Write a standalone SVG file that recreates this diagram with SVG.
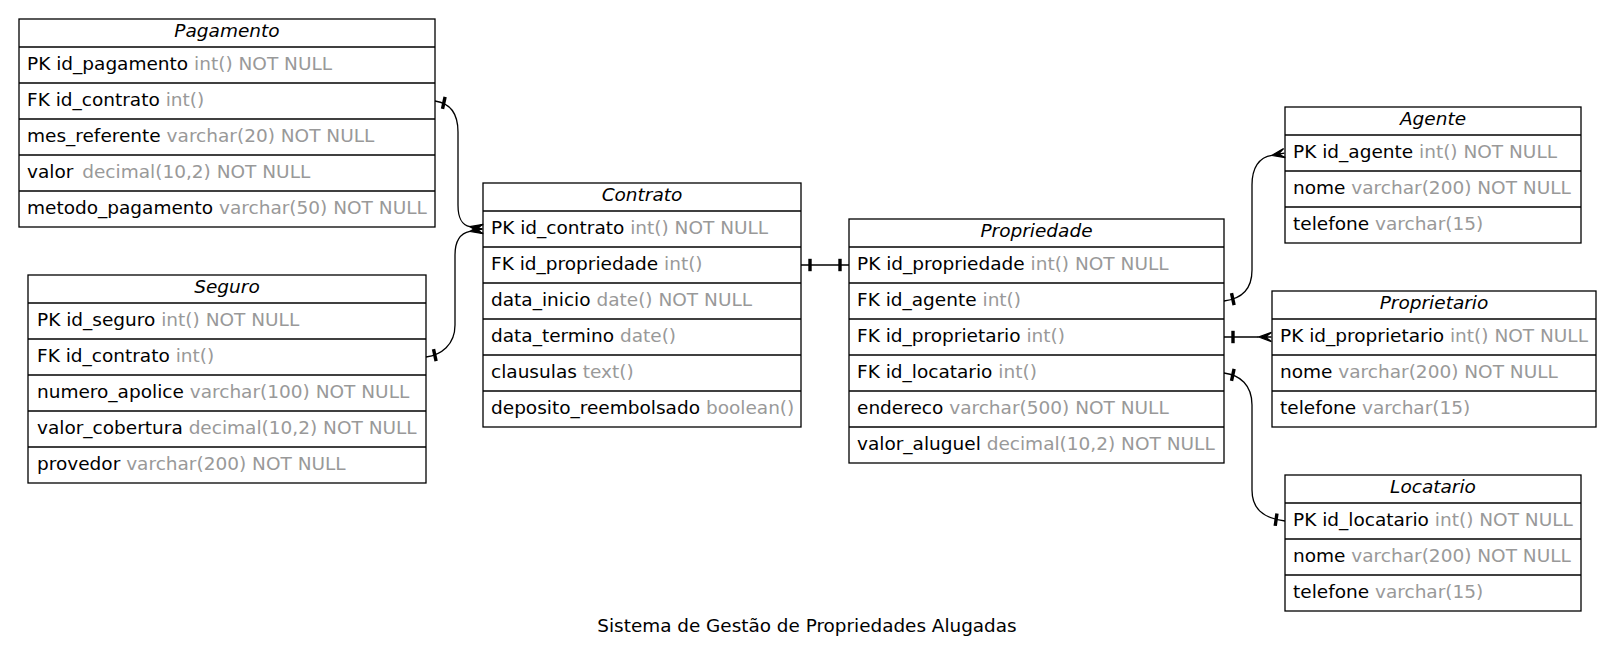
<svg xmlns="http://www.w3.org/2000/svg" xmlns:xlink="http://www.w3.org/1999/xlink" width="1614" height="661" viewBox="0 0 1614 661">
<style>
.bx{fill:#fff;stroke:#000;stroke-width:1.3}
.ln{stroke:#000;stroke-width:1.3}
.h{font-family:"DejaVu Sans",sans-serif;font-size:18.5px;font-style:italic;text-anchor:middle;fill:#000}
.r{font-family:"DejaVu Sans",sans-serif;font-size:18.5px;fill:#000}
.ty{fill:#999}
.e{fill:none;stroke:#000;stroke-width:1.3}
.mk{fill:#000;stroke:#000;stroke-width:1.3;stroke-linejoin:miter}
.tt{font-family:"DejaVu Sans",sans-serif;font-size:18.4px;text-anchor:middle;fill:#000}
</style>
<defs>
<path id="tee" d="M7.3,-6.2h3.4v12.4h-3.4z" style="fill:#000;stroke:none"/>
<path id="crow" d="M13.3,0 L0.6,-4.6 L6.7,0 L0.6,0 L6.7,0 L0.6,4.6 Z" class="mk"/>
</defs>
<rect width="1614" height="661" fill="#fff"/>

<g id="Pagamento">
<rect class="bx" x="19" y="19" width="416" height="208"/>
<line class="ln" x1="19" y1="47" x2="435" y2="47"/>
<line class="ln" x1="19" y1="83" x2="435" y2="83"/>
<line class="ln" x1="19" y1="119" x2="435" y2="119"/>
<line class="ln" x1="19" y1="155" x2="435" y2="155"/>
<line class="ln" x1="19" y1="191" x2="435" y2="191"/>
<text class="h" x="227" y="37">Pagamento</text>
<text class="r" x="27" y="70">PK id_pagamento <tspan class="ty">int() NOT NULL</tspan></text>
<text class="r" x="27" y="106">FK id_contrato <tspan class="ty">int()</tspan></text>
<text class="r" x="27" y="142">mes_referente <tspan class="ty">varchar(20) NOT NULL</tspan></text>
<text class="r" x="27" y="178">valor <tspan class="ty" dx="3">decimal(10,2) NOT NULL</tspan></text>
<text class="r" x="27" y="214">metodo_pagamento <tspan class="ty">varchar(50) NOT NULL</tspan></text>
</g>

<g id="Seguro">
<rect class="bx" x="28" y="275" width="398" height="208"/>
<line class="ln" x1="28" y1="303" x2="426" y2="303"/>
<line class="ln" x1="28" y1="339" x2="426" y2="339"/>
<line class="ln" x1="28" y1="375" x2="426" y2="375"/>
<line class="ln" x1="28" y1="411" x2="426" y2="411"/>
<line class="ln" x1="28" y1="447" x2="426" y2="447"/>
<text class="h" x="227" y="293">Seguro</text>
<text class="r" x="37" y="326">PK id_seguro <tspan class="ty">int() NOT NULL</tspan></text>
<text class="r" x="37" y="362">FK id_contrato <tspan class="ty">int()</tspan></text>
<text class="r" x="37" y="398">numero_apolice <tspan class="ty">varchar(100) NOT NULL</tspan></text>
<text class="r" x="37" y="434">valor_cobertura <tspan class="ty">decimal(10,2) NOT NULL</tspan></text>
<text class="r" x="37" y="470">provedor <tspan class="ty">varchar(200) NOT NULL</tspan></text>
</g>

<g id="Contrato">
<rect class="bx" x="483" y="183" width="318" height="244"/>
<line class="ln" x1="483" y1="211" x2="801" y2="211"/>
<line class="ln" x1="483" y1="247" x2="801" y2="247"/>
<line class="ln" x1="483" y1="283" x2="801" y2="283"/>
<line class="ln" x1="483" y1="319" x2="801" y2="319"/>
<line class="ln" x1="483" y1="355" x2="801" y2="355"/>
<line class="ln" x1="483" y1="391" x2="801" y2="391"/>
<text class="h" x="642" y="201">Contrato</text>
<text class="r" x="491" y="234">PK id_contrato <tspan class="ty">int() NOT NULL</tspan></text>
<text class="r" x="491" y="270">FK id_propriedade <tspan class="ty">int()</tspan></text>
<text class="r" x="491" y="306">data_inicio <tspan class="ty">date() NOT NULL</tspan></text>
<text class="r" x="491" y="342">data_termino <tspan class="ty">date()</tspan></text>
<text class="r" x="491" y="378">clausulas <tspan class="ty">text()</tspan></text>
<text class="r" x="491" y="414">deposito_reembolsado <tspan class="ty">boolean()</tspan></text>
</g>

<g id="Propriedade">
<rect class="bx" x="849" y="219" width="375" height="244"/>
<line class="ln" x1="849" y1="247" x2="1224" y2="247"/>
<line class="ln" x1="849" y1="283" x2="1224" y2="283"/>
<line class="ln" x1="849" y1="319" x2="1224" y2="319"/>
<line class="ln" x1="849" y1="355" x2="1224" y2="355"/>
<line class="ln" x1="849" y1="391" x2="1224" y2="391"/>
<line class="ln" x1="849" y1="427" x2="1224" y2="427"/>
<text class="h" x="1036.5" y="237">Propriedade</text>
<text class="r" x="857" y="270">PK id_propriedade <tspan class="ty">int() NOT NULL</tspan></text>
<text class="r" x="857" y="306">FK id_agente <tspan class="ty">int()</tspan></text>
<text class="r" x="857" y="342">FK id_proprietario <tspan class="ty">int()</tspan></text>
<text class="r" x="857" y="378">FK id_locatario <tspan class="ty">int()</tspan></text>
<text class="r" x="857" y="414">endereco <tspan class="ty">varchar(500) NOT NULL</tspan></text>
<text class="r" x="857" y="450">valor_aluguel <tspan class="ty">decimal(10,2) NOT NULL</tspan></text>
</g>

<g id="Agente">
<rect class="bx" x="1285" y="107" width="296" height="136"/>
<line class="ln" x1="1285" y1="135" x2="1581" y2="135"/>
<line class="ln" x1="1285" y1="171" x2="1581" y2="171"/>
<line class="ln" x1="1285" y1="207" x2="1581" y2="207"/>
<text class="h" x="1433" y="125">Agente</text>
<text class="r" x="1293" y="158">PK id_agente <tspan class="ty">int() NOT NULL</tspan></text>
<text class="r" x="1293" y="194">nome <tspan class="ty">varchar(200) NOT NULL</tspan></text>
<text class="r" x="1293" y="230">telefone <tspan class="ty">varchar(15)</tspan></text>
</g>

<g id="Proprietario">
<rect class="bx" x="1272" y="291" width="324" height="136"/>
<line class="ln" x1="1272" y1="319" x2="1596" y2="319"/>
<line class="ln" x1="1272" y1="355" x2="1596" y2="355"/>
<line class="ln" x1="1272" y1="391" x2="1596" y2="391"/>
<text class="h" x="1434" y="309">Proprietario</text>
<text class="r" x="1280" y="342">PK id_proprietario <tspan class="ty">int() NOT NULL</tspan></text>
<text class="r" x="1280" y="378">nome <tspan class="ty">varchar(200) NOT NULL</tspan></text>
<text class="r" x="1280" y="414">telefone <tspan class="ty">varchar(15)</tspan></text>
</g>

<g id="Locatario">
<rect class="bx" x="1285" y="475" width="296" height="136"/>
<line class="ln" x1="1285" y1="503" x2="1581" y2="503"/>
<line class="ln" x1="1285" y1="539" x2="1581" y2="539"/>
<line class="ln" x1="1285" y1="575" x2="1581" y2="575"/>
<text class="h" x="1433" y="493">Locatario</text>
<text class="r" x="1293" y="526">PK id_locatario <tspan class="ty">int() NOT NULL</tspan></text>
<text class="r" x="1293" y="562">nome <tspan class="ty">varchar(200) NOT NULL</tspan></text>
<text class="r" x="1293" y="598">telefone <tspan class="ty">varchar(15)</tspan></text>
</g>

<g id="connectors">
<path class="e" d="M435,101 C449,103 458,112 458,132 L458,205 C458,219 462,225 470,226.7"/>
<use xlink:href="#tee" href="#tee" transform="translate(435,101) rotate(12)"/>
<use xlink:href="#crow" href="#crow" transform="translate(483,229) rotate(190)"/>

<path class="e" d="M426,357 C441,355 455,345 455,325 L455,255 C455,240 461,233 470,231.3"/>
<use xlink:href="#tee" href="#tee" transform="translate(426,357) rotate(-12)"/>
<use xlink:href="#crow" href="#crow" transform="translate(483,229) rotate(170)"/>

<path class="e" d="M801,265 L849,265"/>
<use xlink:href="#tee" href="#tee" transform="translate(801,265)"/>
<use xlink:href="#tee" href="#tee" transform="translate(849,265) rotate(180)"/>

<path class="e" d="M1224,301 C1240,299 1252,290 1252,270 L1252,185 C1252,168 1259,157 1271.9,155.3"/>
<use xlink:href="#tee" href="#tee" transform="translate(1224,301) rotate(-12)"/>
<use xlink:href="#crow" href="#crow" transform="translate(1285,153) rotate(170)"/>

<path class="e" d="M1224,337 L1258.7,337"/>
<use xlink:href="#tee" href="#tee" transform="translate(1224,337)"/>
<use xlink:href="#crow" href="#crow" transform="translate(1272,337) rotate(180)"/>

<path class="e" d="M1224,373 C1240,375 1252,385 1252,405 L1252,490 C1252,508 1262,518 1285,521"/>
<use xlink:href="#tee" href="#tee" transform="translate(1224,373) rotate(12)"/>
<use xlink:href="#tee" href="#tee" transform="translate(1285,521) rotate(188)"/>
</g>

<text class="tt" x="807" y="632">Sistema de Gestão de Propriedades Alugadas</text>
</svg>
